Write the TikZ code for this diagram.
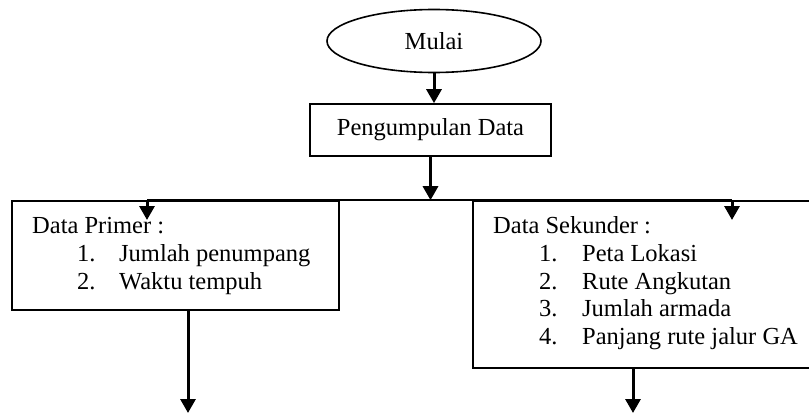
\documentclass[tikz,border=0pt]{standalone}
\usepackage{fontspec}
\setmainfont{Liberation Serif}
\usetikzlibrary{shapes.geometric,arrows.meta}
\begin{document}
\begin{tikzpicture}[x=1pt,y=-1pt,
  every node/.style={font=\fontsize{24.5}{28}\selectfont},
  boxnode/.style={draw, line width=1.6pt, rectangle, inner sep=0pt},
  txt/.style={inner sep=0pt, anchor=base west},
  arr/.style={line width=3pt, -{Triangle[length=14pt,width=15pt]}},
  hline/.style={line width=2pt}]
\useasboundingbox (0,0) rectangle (809,415);
\node[draw, ellipse, line width=1.6pt, minimum width=214pt, minimum height=63pt, inner sep=0pt] (start) at (434,41) {Mulai};
\node[boxnode, minimum width=241pt, minimum height=52pt] (collect) at (430.5,130) {Pengumpulan Data};
\node[boxnode, minimum width=327pt, minimum height=109pt] (primer) at (175.5,255.5) {};
\node[boxnode, minimum width=340pt, minimum height=167pt] (sekunder) at (643,284.5) {};
% texts of Data Primer
\node[txt] (p0) at (32,233) {Data Primer :};
\node[txt] (p1n) at (77,261) {1.};
\node[txt] (p1) at (119,261) {Jumlah penumpang};
\node[txt] (p2n) at (77,289) {2.};
\node[txt] (p2) at (119,289) {Waktu tempuh};
% texts of Data Sekunder
\node[txt] (s0) at (493,233) {Data Sekunder :};
\node[txt] (s1n) at (539,261) {1.};
\node[txt] (s1) at (582,261) {Peta Lokasi};
\node[txt] (s2n) at (539,289) {2.};
\node[txt] (s2) at (582,289) {Rute Angkutan};
\node[txt] (s3n) at (539,316) {3.};
\node[txt] (s3) at (582,316) {Jumlah armada};
\node[txt] (s4n) at (539,344) {4.};
\node[txt] (s4) at (582,344) {Panjang rute jalur GA};
% connectors
\draw[arr] (start.south) -- (start.south |- collect.north);
\coordinate (j) at (collect.south |- primer.north);
\draw[arr] (collect.south) -- (j);
\coordinate (pa) at (147,220);
\coordinate (sa) at (732,220);
\draw[hline] (pa |- j) -- (sa |- j);
\draw[arr] (pa |- j) -- (pa);
\draw[arr] (sa |- j) -- (sa);
\coordinate (pout) at (188,413);
\coordinate (sout) at (633,413);
\draw[arr] (pout |- primer.south) -- (pout);
\draw[arr] (sout |- sekunder.south) -- (sout);
\end{tikzpicture}
\end{document}
